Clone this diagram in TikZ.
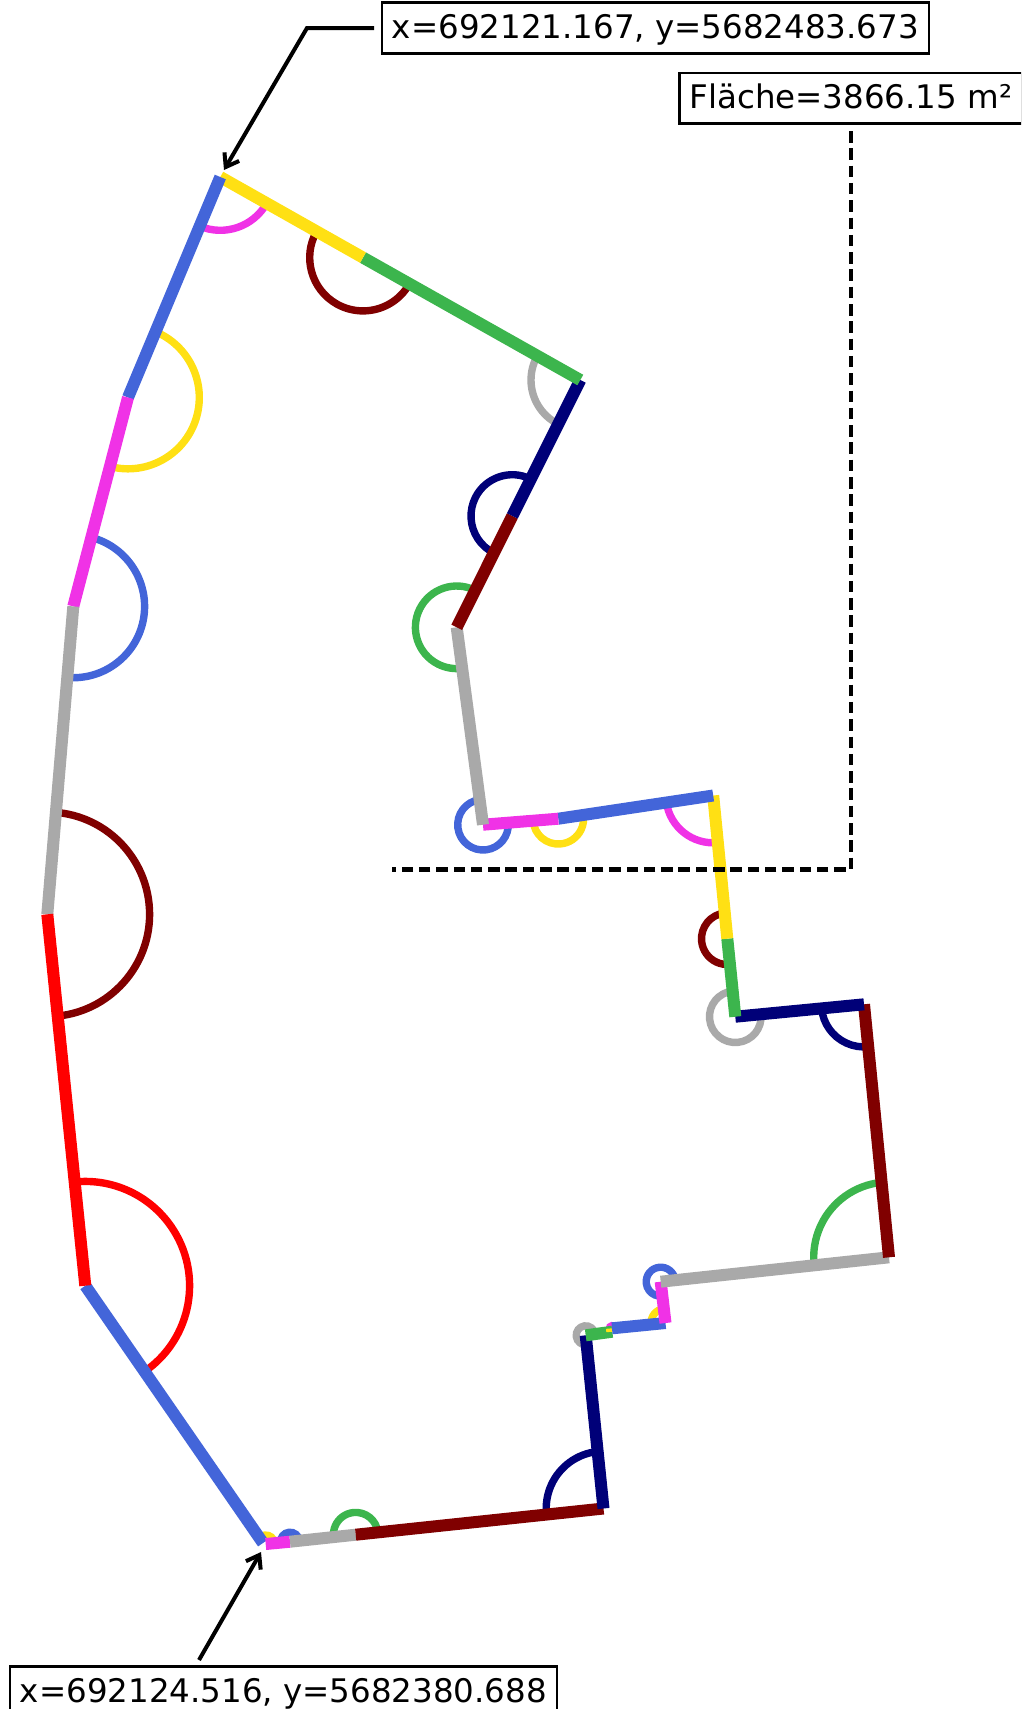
\documentclass[tikz,border=0pt]{standalone}
\usepackage{fontspec}
\setmainfont{DejaVu Sans}
\usetikzlibrary{calc,arrows.meta}
\definecolor{cblue}{HTML}{4365D9}
\definecolor{cyellow}{HTML}{FFE014}
\definecolor{cmag}{HTML}{F032E6}
\definecolor{cgreen}{HTML}{3CB54D}
\definecolor{cnavy}{HTML}{000078}
\definecolor{cmaroon}{HTML}{800000}
\definecolor{cgray}{HTML}{A9A9A9}
\definecolor{cred}{HTML}{FF0000}
\tikzset{
  seg/.style={line width=12pt,line cap=butt},
  arcline/.style={line width=7.4pt,line cap=butt},
  labelbox/.style={draw=black,line width=2.6pt,fill=white,inner sep=0pt,outer sep=0pt,text height=35.5pt,text depth=15pt,font=\fontsize{32.5}{36}\selectfont,anchor=north west,align=center},
  leader/.style={draw=black,line width=4pt,-{Straight Barb[length=12pt,width=17pt,line width=4pt]}},
  dashline/.style={draw=black,line width=4.2pt,dash pattern=on 11.5pt off 5.8pt}
}
\newcommand{\angarc}[5]{%
  \draw[arcline,#1] let \p1=($(#2)-(#3)$),\p2=($(#4)-(#3)$),
    \n1={atan2(\y1,\x1)},\n2={atan2(\y2,\x2)},
    \n3={ifthenelse(\n2<\n1,\n2+360,\n2)} in
    ($(#3)+(\n1:#5pt)$) arc[start angle=\n1,end angle=\n3,radius=#5pt];}
\begin{document}
\begin{tikzpicture}[x=1pt,y=-1pt]
\useasboundingbox (0,0) rectangle (1021,1709);
\clip (0,0) rectangle (1021,1709);
\coordinate (P0) at (220.3,177);
\coordinate (P1) at (363,257.6);
\coordinate (P2) at (580.3,380);
\coordinate (P3) at (512.3,516);
\coordinate (P4) at (456.7,627.3);
\coordinate (P5) at (483,824.7);
\coordinate (P6) at (558.3,818.7);
\coordinate (P7) at (713.2,795.5);
\coordinate (P8) at (727.3,938.7);
\coordinate (P9) at (735.3,1016.7);
\coordinate (P10) at (864,1004.3);
\coordinate (P11) at (889,1257.3);
\coordinate (P12) at (660.7,1281.7);
\coordinate (P13) at (665.5,1323);
\coordinate (P14) at (612,1328.3);
\coordinate (P15) at (612.3,1331.7);
\coordinate (P16) at (585.7,1335.3);
\coordinate (P17) at (603.5,1508.5);
\coordinate (P18) at (355.7,1534.7);
\coordinate (P19) at (290,1541.7);
\coordinate (P20) at (265.7,1544);
\coordinate (P20b) at (263,1543);
\coordinate (P21) at (85.3,1285.7);
\coordinate (P22) at (47.3,914.3);
\coordinate (P23) at (73.3,606.4);
\coordinate (P24) at (128,397.5);
% angle arcs
\angarc{cmag}{P24}{P0}{P1}{53.3}
\angarc{cmaroon}{P0}{P1}{P2}{53.3}
\angarc{cgray}{P1}{P2}{P3}{49.3}
\angarc{cnavy}{P2}{P3}{P4}{41.3}
\angarc{cgreen}{P3}{P4}{P5}{41.3}
\angarc{cblue}{P4}{P5}{P6}{25.3}
\angarc{cyellow}{P5}{P6}{P7}{25.3}
\angarc{cmag}{P6}{P7}{P8}{47.3}
\angarc{cmaroon}{P7}{P8}{P9}{25.8}
\angarc{cgray}{P8}{P9}{P10}{25.8}
\angarc{cnavy}{P9}{P10}{P11}{42.6}
\angarc{cgreen}{P10}{P11}{P12}{75.3}
\angarc{cblue}{P11}{P12}{P13}{14.5}
\angarc{cyellow}{P12}{P13}{P14}{14.5}
\angarc{cmag}{P13}{P14}{P15}{2.5}
\angarc{cgray}{P15}{P16}{P17}{9.5}
\angarc{cnavy}{P16}{P17}{P18}{57.3}
\angarc{cgreen}{P17}{P18}{P19}{22.3}
\angarc{cblue}{P18}{P19}{P20}{9.5}
\angarc{cyellow}{P19}{P20}{P21}{9}
\angarc{cred}{P20b}{P21}{P22}{104.3}
\angarc{cmaroon}{P21}{P22}{P23}{102.3}
\angarc{cblue}{P22}{P23}{P24}{71.3}
\angarc{cyellow}{P23}{P24}{P0}{71.3}
% boundary segments
\draw[seg,cblue] (P20b) -- (P21);
\draw[seg,cmag] (P19) -- (P20);
\draw[seg,cgray] (P18) -- (P19);
\draw[seg,cmaroon] (P17) -- (P18);
\draw[seg,cnavy] (P16) -- (P17);
\draw[seg,cgreen] (P15) -- (P16);
\draw[seg,cyellow] (P14) -- (P15);
\draw[seg,cblue] (P13) -- (P14);
\draw[seg,cmag] (P12) -- (P13);
\draw[seg,cgray] (P11) -- (P12);
\draw[seg,cmaroon] (P10) -- (P11);
\draw[seg,cnavy] (P9) -- (P10);
\draw[seg,cgreen] (P8) -- (P9);
\draw[seg,cyellow] (P7) -- (P8);
\draw[seg,cblue] (P6) -- (P7);
\draw[seg,cmag] (P5) -- (P6);
\draw[seg,cgray] (P4) -- (P5);
\draw[seg,cmaroon] (P3) -- (P4);
\draw[seg,cnavy] (P2) -- (P3);
\draw[seg,cgreen] (P1) -- (P2);
\draw[seg,cyellow] (P0) -- (P1);
\draw[seg,cblue] (P24) -- (P0);
\draw[seg,cmag] (P23) -- (P24);
\draw[seg,cgray] (P22) -- (P23);
\draw[seg,cred] (P21) -- (P22);
% labels
\node[labelbox,minimum width=547pt] (topbox) at (382,2.7) {x=692121.167, y=5682483.673};
\node[labelbox,minimum width=343pt] (areabox) at (679.5,73) {Fläche=3866.15 m²};
\node[labelbox,minimum width=547pt] (botbox) at (10,1666.5) {x=692124.516, y=5682380.688};
% leaders
\coordinate (topstart) at (374,28);
\coordinate (topelbow) at (307,28);
\coordinate (toptip) at (224,170);
\coordinate (botstart) at (199,1660);
\coordinate (bottip) at (261,1552);
\coordinate (dashstart) at (851,131);
\coordinate (dashcorner) at (851,869.5);
\coordinate (dashend) at (392,869.5);
\draw[leader] (topstart) -- (topelbow) -- (toptip);
\draw[leader] (botstart) -- (bottip);
\draw[dashline] (dashstart) -- (dashcorner) -- (dashend);
\end{tikzpicture}
\end{document}
